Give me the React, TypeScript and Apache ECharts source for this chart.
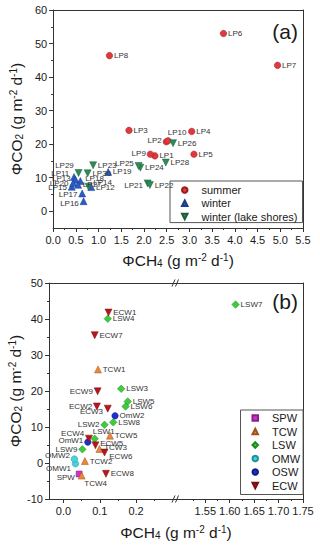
import React, { useEffect, useRef } from "react";
import * as echarts from "echarts";

// ---------- Panel (a) data ----------
const summerNames = ["LP1", "LP2", "LP3", "LP4", "LP5", "LP6", "LP7", "LP8", "LP9", "LP10"];
const summerCH4 = [2.24, 2.49, 1.67, 3.05, 3.10, 3.75, 4.94, 1.24, 2.14, 2.53];
const summerCO2 = [16.5, 20.7, 24.1, 23.8, 17.0, 53.0, 43.5, 46.4, 17.0, 21.0];

const winterNames = ["LP11", "LP12", "LP13", "LP15", "LP16", "LP17", "LP18", "LP19", "LP20", "LP27"];
const winterCH4 = [0.46, 0.84, 0.49, 0.41, 0.67, 0.64, 0.60, 1.21, 0.44, 0.55];
const winterCO2 = [10.2, 7.2, 9.4, 7.3, 3.0, 5.3, 9.0, 11.7, 8.4, 7.9];

const shoreNames = ["LP14", "LP21", "LP22", "LP23", "LP24", "LP25", "LP26", "LP28", "LP29", "LP30"];
const shoreCH4 = [0.78, 2.08, 2.13, 0.88, 1.92, 1.88, 2.64, 2.48, 0.56, 0.76];
const shoreCO2 = [7.3, 8.3, 7.8, 13.7, 13.0, 13.5, 20.3, 14.5, 11.4, 11.3];

const aXTicks = [0, 0.5, 1, 1.5, 2, 2.5, 3, 3.5, 4, 4.5, 5, 5.5];
const aYTicks = [0, 10, 20, 30, 40, 50, 60];
const aYMinorTicks = [5, 15, 25, 35, 45, 55];

// ---------- Panel (b) data ----------
const spwNames = ["SPW"];
const spwCH4 = [0.043];
const spwCO2 = [-3.05];

const tcwNames = ["TCW1", "TCW2", "TCW3", "TCW4", "TCW5"];
const tcwCH4 = [0.095, 0.059, 0.099, 0.050, 0.128];
const tcwCO2 = [26.0, 0.55, 3.9, -3.5, 7.6];

const lswNames = ["LSW1", "LSW2", "LSW3", "LSW4", "LSW5", "LSW6", "LSW7", "LSW8", "LSW9"];
const lswCH4 = [0.086, 0.113, 0.159, 0.122, 0.177, 0.171, 1.612, 0.137, 0.052];
const lswCO2 = [6.75, 10.6, 20.6, 40.1, 17.1, 15.7, 44.0, 11.3, 3.8];

const omwNames = ["OMW1", "OMW2"];
const omwCH4 = [0.033, 0.030];
const omwCO2 = [-0.2, 1.1];

const oswNames = ["OmW1", "OmW2"];
const oswCH4 = [0.067, 0.142];
const oswCO2 = [5.8, 13.1];

const ecwNames = ["ECW1", "ECW2", "ECW3", "ECW4", "ECW5", "ECW6", "ECW7", "ECW8", "ECW9"];
const ecwCH4 = [0.124, 0.092, 0.122, 0.070, 0.088, 0.113, 0.086, 0.117, 0.094];
const ecwCO2 = [41.8, 15.7, 15.1, 6.75, 4.9, 2.9, 35.5, -3.0, 19.9];

const bYTicks = [-10, 0, 10, 20, 30, 40, 50];
const bXLeftTicks = [0, 0.1, 0.2];
const bXLeftMinor = [0.05, 0.15, 0.25];
const bXRightTicks = [1.55, 1.6, 1.65, 1.7, 1.75];
const bXRightMinor = [1.525, 1.575, 1.625, 1.675, 1.725];
const BREAK_AT = 0.31; // left segment upper bound
const RIGHT_MIN = 1.49;

// ---------- label placement (style) ----------
type Place = [string, number, number];
const placeA: Record<string, Place> = {
  LP9: ["left", 0, -1], LP2: ["left", 0, -1], LP10: ["top", 9, 0],
  LP25: ["left", 0, -2], LP21: ["left", 0, 2], LP29: ["left", 0, -7],
  LP11: ["left", 0, -4], LP13: ["left", 0, -1], LP20: ["left", 0, 0],
  LP15: ["left", 0, 1], LP17: ["left", 0, 1], LP16: ["left", 0, 2],
  LP18: ["right", 0, -3], LP14: ["right", 0, -4],
};
const placeB: Record<string, Place> = {
  ECW9: ["left", 0, 0], ECW2: ["left", 0, 0], ECW3: ["left", 0, 3],
  LSW2: ["left", 0, 0], LSW1: ["top", 9, 2], ECW4: ["left", 0, -5],
  OmW1: ["left", 0, -2], ECW5: ["right", 0, -2], LSW9: ["left", 0, 0],
  ECW6: ["right", 0, 4], OMW2: ["left", 0, -4], OMW1: ["left", 0, 5],
  SPW: ["left", 0, 4], TCW4: ["bottom", 14, -1], TCW3: ["right", 0, -1],
};

const FONT = "'Liberation Sans', Arial, Helvetica, sans-serif";
const AXIS_COLOR = "#333";
const TEXT_COLOR = "#1a1a1a";
const LABEL_COLOR = "#333";
const DOWN_TRIANGLE = "path://M0,0L10,0L5,10Z";

function makeData(names: string[], xs: number[], ys: number[], places: Record<string, Place>, filter?: (x: number) => boolean) {
  const out: any[] = [];
  names.forEach((n, i) => {
    if (filter && !filter(xs[i])) return;
    const item: any = { name: n, value: [xs[i], ys[i]] };
    const p = places[n];
    if (p) item.label = { position: p[0], offset: [p[1], p[2]] };
    out.push(item);
  });
  return out;
}

const richName: any = {
  sub: { fontSize: 10, verticalAlign: "bottom", fontFamily: FONT, color: TEXT_COLOR, fill: TEXT_COLOR },
  sup: { fontSize: 10, verticalAlign: "top", fontFamily: FONT, color: TEXT_COLOR, fill: TEXT_COLOR },
};
const nameCH4 = "ΦCH{sub|4} (g m{sup|-2} d{sup|-1})";
const nameCO2 = "ΦCO{sub|2} (g m{sup|-2} d{sup|-1})";

const lineStyle = { color: AXIS_COLOR, width: 1 };
const tickLabel = { fontSize: 11, color: TEXT_COLOR, fontFamily: FONT, margin: 6 };
const nameStyle = { fontSize: 15.5, color: TEXT_COLOR, fontFamily: FONT, rich: richName };

function lineOnlyAxis(gridIndex: number, position: string, min: number, max: number) {
  return {
    type: "value", gridIndex, position, min, max,
    axisLine: { show: true, onZero: false, lineStyle },
    axisTick: { show: false }, axisLabel: { show: false }, splitLine: { show: false },
  };
}
function minorAxis(gridIndex: number, position: string, min: number, max: number, values: number[]) {
  return {
    type: "value", gridIndex, position, min, max,
    axisLine: { show: false, onZero: false },
    axisTick: { show: true, length: 2, lineStyle, customValues: values },
    axisLabel: { show: false }, splitLine: { show: false },
  };
}

const labelBase = { show: true, formatter: "{b}", position: "right", distance: 1, fontSize: 8, color: LABEL_COLOR, fontFamily: FONT };

function scatter(name: string, data: any[], xi: number, yi: number, symbol: string, size: number, color: string, border: string, rotate = 0) {
  return {
    type: "scatter", name, data, xAxisIndex: xi, yAxisIndex: yi,
    symbol, symbolSize: size, symbolRotate: rotate,
    itemStyle: { color, borderColor: border, borderWidth: 0.5, opacity: 1 },
    label: labelBase,
  };
}

const legendText = { fontSize: 11, color: TEXT_COLOR, fontFamily: FONT, padding: [0, 0, 0, 9] };

export default function App() {
  const ref = useRef<HTMLDivElement>(null);
  useEffect(() => {
    if (!ref.current) return;
    const chart = echarts.init(ref.current, null, { renderer: "svg" });
    const inLeft = (x: number) => x <= BREAK_AT;
    const inRight = (x: number) => x >= RIGHT_MIN;

    const option: any = {
      animation: false,
      textStyle: { fontFamily: FONT },
      grid: [
        { left: 49, top: 10, width: 254, height: 218 },
        { left: 49, top: 283, width: 127, height: 216 },
        { left: 176, top: 283, width: 127, height: 216 },
      ],
      xAxis: [
        {
          type: "value", gridIndex: 0, position: "bottom", min: 0, max: 5.5, interval: 0.5,
          axisLine: { show: true, onZero: false, lineStyle },
          axisTick: { show: true, length: 4, lineStyle },
          minorTick: { show: true, splitNumber: 2, length: 2, lineStyle },
          splitLine: { show: false },
          axisLabel: { ...tickLabel, formatter: (v: number) => (aXTicks.includes(v) ? v.toFixed(1) : "") },
          name: nameCH4, nameLocation: "middle", nameGap: 24, nameTextStyle: nameStyle,
        },
        lineOnlyAxis(0, "top", 0, 5.5),
        {
          type: "value", gridIndex: 1, position: "bottom", min: -0.04, max: BREAK_AT,
          axisLine: { show: true, onZero: false, lineStyle },
          axisTick: { show: true, length: 4, lineStyle, customValues: bXLeftTicks },
          splitLine: { show: false },
          axisLabel: { ...tickLabel, customValues: bXLeftTicks, formatter: (v: number) => v.toFixed(1) },
        },
        minorAxis(1, "bottom", -0.04, BREAK_AT, bXLeftMinor),
        lineOnlyAxis(1, "top", -0.04, BREAK_AT),
        {
          type: "value", gridIndex: 2, position: "bottom", min: RIGHT_MIN, max: 1.75,
          axisLine: { show: true, onZero: false, lineStyle },
          axisTick: { show: true, length: 4, lineStyle, customValues: bXRightTicks },
          splitLine: { show: false },
          axisLabel: { ...tickLabel, customValues: bXRightTicks, formatter: (v: number) => v.toFixed(2) },
        },
        minorAxis(2, "bottom", RIGHT_MIN, 1.75, bXRightMinor),
        lineOnlyAxis(2, "top", RIGHT_MIN, 1.75),
      ],
      yAxis: [
        {
          type: "value", gridIndex: 0, position: "left", min: -5, max: 60,
          axisLine: { show: true, onZero: false, lineStyle },
          axisTick: { show: true, length: 4, lineStyle, customValues: aYTicks },
          splitLine: { show: false },
          axisLabel: { ...tickLabel, customValues: aYTicks },
          name: nameCO2, nameLocation: "middle", nameGap: 23, nameTextStyle: nameStyle,
        },
        minorAxis(0, "left", -5, 60, aYMinorTicks),
        lineOnlyAxis(0, "right", -5, 60),
        {
          type: "value", gridIndex: 1, position: "left", min: -10, max: 50, interval: 10,
          axisLine: { show: true, onZero: false, lineStyle },
          axisTick: { show: true, length: 4, lineStyle },
          minorTick: { show: true, splitNumber: 2, length: 2, lineStyle },
          splitLine: { show: false },
          axisLabel: { ...tickLabel, formatter: (v: number) => (bYTicks.includes(v) ? String(v) : "") },
          name: nameCO2, nameLocation: "middle", nameGap: 23, nameTextStyle: nameStyle,
        },
        lineOnlyAxis(2, "right", -10, 50),
      ],
      legend: [
        {
          data: ["summer", "winter", { name: "winter (lake shores)", icon: DOWN_TRIANGLE }],
          orient: "vertical", left: 170, top: 181,
          padding: [3.5, 5, 0.5, 11], itemGap: 2.3, itemWidth: 5.5, itemHeight: 5.5,
          borderColor: "#555", borderWidth: 1,
          textStyle: legendText,
        },
        {
          data: ["SPW", "TCW", "LSW", "OMW", "OSW", { name: "ECW", icon: DOWN_TRIANGLE }],
          orient: "vertical", left: 240.5, top: 410,
          padding: [2.5, 3, 3.5, 11], itemGap: 2.5, itemWidth: 5.5, itemHeight: 5.5,
          borderColor: "#555", borderWidth: 1,
          textStyle: legendText,
        },
      ],
      series: [
        scatter("summer", makeData(summerNames, summerCH4, summerCO2, placeA), 0, 0, "circle", 6.5, "#e0383e", "#9b1c1c"),
        scatter("winter", makeData(winterNames, winterCH4, winterCO2, placeA), 0, 0, "triangle", 7, "#2a5cc4", "#1a3c8a"),
        scatter("winter (lake shores)", makeData(shoreNames, shoreCH4, shoreCO2, placeA), 0, 0, "triangle", 7, "#2e8b57", "#1d5e3a", 180),

        scatter("SPW", makeData(spwNames, spwCH4, spwCO2, placeB, inLeft), 2, 3, "rect", 6, "#cc33cc", "#8a1f8a"),
        scatter("TCW", makeData(tcwNames, tcwCH4, tcwCO2, placeB, inLeft), 2, 3, "triangle", 7, "#e8883a", "#a0521c"),
        scatter("LSW", makeData(lswNames, lswCH4, lswCO2, placeB, inLeft), 2, 3, "diamond", 7.5, "#3ccc3c", "#1f8a1f"),
        scatter("LSW", makeData(lswNames, lswCH4, lswCO2, placeB, inRight), 5, 4, "diamond", 7.5, "#3ccc3c", "#1f8a1f"),
        scatter("OMW", makeData(omwNames, omwCH4, omwCO2, placeB, inLeft), 2, 3, "circle", 6.5, "#44d4dc", "#1f8f99"),
        scatter("OSW", makeData(oswNames, oswCH4, oswCO2, placeB, inLeft), 2, 3, "circle", 6.5, "#1f2fd0", "#121d80"),
        scatter("ECW", makeData(ecwNames, ecwCH4, ecwCO2, placeB, inLeft), 2, 3, "triangle", 7, "#b5171c", "#7a0d10", 180),
      ],
      graphic: [
        { type: "text", x: 298, y: 31, style: { text: "(a)", fontSize: 21, fontFamily: FONT, fill: TEXT_COLOR, align: "right", verticalAlign: "middle" } },
        { type: "text", x: 298, y: 301, style: { text: "(b)", fontSize: 21, fontFamily: FONT, fill: TEXT_COLOR, align: "right", verticalAlign: "middle" } },
        { type: "text", x: 176, y: 532, style: { text: nameCH4, rich: richName, fontSize: 15.5, fontFamily: FONT, fill: TEXT_COLOR, align: "center", verticalAlign: "middle" } },
        { type: "line", shape: { x1: 172, y1: 286.5, x2: 175, y2: 279.5 }, style: { stroke: AXIS_COLOR, lineWidth: 1 } },
        { type: "line", shape: { x1: 175.5, y1: 286.5, x2: 178.5, y2: 279.5 }, style: { stroke: AXIS_COLOR, lineWidth: 1 } },
        { type: "line", shape: { x1: 172, y1: 502.5, x2: 175, y2: 495.5 }, style: { stroke: AXIS_COLOR, lineWidth: 1 } },
        { type: "line", shape: { x1: 175.5, y1: 502.5, x2: 178.5, y2: 495.5 }, style: { stroke: AXIS_COLOR, lineWidth: 1 } },
      ],
    };
    chart.setOption(option);
    return () => chart.dispose();
  }, []);
  return <div ref={ref} style={{ position: "fixed", left: 0, top: 0, width: 320, height: 550, background: "#fff" }} />;
}
